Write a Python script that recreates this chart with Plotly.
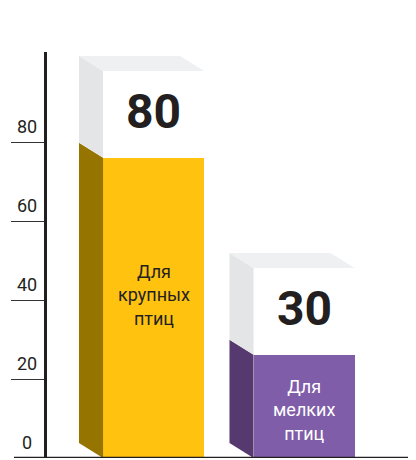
import plotly.graph_objects as go

# ---- data ----
categories = ["Для<br>крупных<br>птиц", "Для<br>мелких<br>птиц"]
values = [80, 30]
value_labels = ["80", "30"]
tick_vals = [0, 20, 40, 60, 80]
tick_text = ["0", "20", "40", "60", "80"]

# ---- style ----
front_colors = ["#FEC20F", "#7F5DA8"]
side_colors = ["#967400", "#55396F"]
label_colors = ["#231F20", "#FFFFFF"]
label_yshift = [13, -4]
cap_front = "#FFFFFF"
cap_side = "#E4E5E7"
cap_top = "#EFF0F2"
FONT = "Roboto, sans-serif"

# page has an 8px body margin, so the figure is 8px smaller than the window
W, H = 408, 452
ML, MR, MT, MB = 39, 0, 44, 2
YMAX = 103
XMIN, XMAX = -0.708, 1.744
bar_w = 0.671      # front face width (x units)
dx = 0.16          # depth offset in x units
dy = 3.8           # depth offset in y units
cap_h = 22         # height of white cap (y units)

xs = list(range(len(categories)))
fig = go.Figure()

# front faces: value part (shifted down by depth), cap on top
fig.add_trace(go.Bar(x=xs, y=[v - dy for v in values], width=bar_w,
                     marker=dict(color=front_colors, line=dict(width=0)),
                     hoverinfo="skip", showlegend=False))
fig.add_trace(go.Bar(x=xs, y=[cap_h for _ in values], width=bar_w,
                     marker=dict(color=cap_front, line=dict(width=0)),
                     hoverinfo="skip", showlegend=False))

for i, v in enumerate(values):
    xl = xs[i] - bar_w / 2
    xr = xs[i] + bar_w / 2
    # side of value part
    fig.add_trace(go.Scatter(
        x=[xl - dx, xl - dx, xl, xl, xl - dx],
        y=[dy, v, v - dy, 0, dy],
        fill="toself", fillcolor=side_colors[i], mode="lines",
        line=dict(width=0), hoverinfo="skip", showlegend=False))
    # side of cap
    fig.add_trace(go.Scatter(
        x=[xl - dx, xl - dx, xl, xl, xl - dx],
        y=[v, v + cap_h, v + cap_h - dy, v - dy, v],
        fill="toself", fillcolor=cap_side, mode="lines",
        line=dict(width=0), hoverinfo="skip", showlegend=False))
    # top of cap
    fig.add_trace(go.Scatter(
        x=[xl - dx, xr - dx, xr, xl, xl - dx],
        y=[v + cap_h, v + cap_h, v + cap_h - dy, v + cap_h - dy, v + cap_h],
        fill="toself", fillcolor=cap_top, mode="lines",
        line=dict(width=0), hoverinfo="skip", showlegend=False))

annotations = []
for i, v in enumerate(values):
    annotations.append(dict(
        x=xs[i], y=v - dy + cap_h / 2, xref="x", yref="y",
        xanchor="center", yanchor="middle", yshift=3,
        text=value_labels[i], showarrow=False,
        font=dict(family=FONT, size=48, color="#231F20", weight=700)))
    annotations.append(dict(
        x=xs[i], y=(v - dy) / 2, xref="x", yref="y",
        xanchor="center", yanchor="middle", yshift=label_yshift[i],
        text=categories[i], showarrow=False,
        font=dict(family=FONT, size=18, color=label_colors[i])))

for tv, tt in zip(tick_vals, tick_text):
    annotations.append(dict(
        x=-20 / (W - ML - MR), y=tv, xref="paper", yref="y",
        xanchor="center", yanchor="middle",
        text=tt, showarrow=False, yshift=16,
        font=dict(family=FONT, size=18, color="#231F20")))

shapes = [dict(type="line", xref="paper", yref="y",
               x0=-33 / (W - ML - MR), x1=1, y0=0, y1=0,
               line=dict(color="#231F20", width=2.5))]

fig.update_layout(
    template="none",
    width=W, height=H,
    margin=dict(l=ML, r=MR, t=MT, b=MB, autoexpand=False),
    paper_bgcolor="white", plot_bgcolor="white",
    barmode="stack", bargap=0,
    showlegend=False,
    annotations=annotations, shapes=shapes,
    xaxis=dict(range=[XMIN, XMAX], showgrid=False, zeroline=False,
               showticklabels=False, ticks="", showline=False,
               automargin=False, fixedrange=True),
    yaxis=dict(range=[0, YMAX], showgrid=False, zeroline=False,
               showline=True, linecolor="#231F20", linewidth=2.5,
               tickvals=tick_vals[1:], ticks="outside", ticklen=33,
               tickwidth=1.2, tickcolor="#333333", showticklabels=False,
               automargin=False, fixedrange=True),
)

fig.write_html("out.html", config={"displayModeBar": False})
